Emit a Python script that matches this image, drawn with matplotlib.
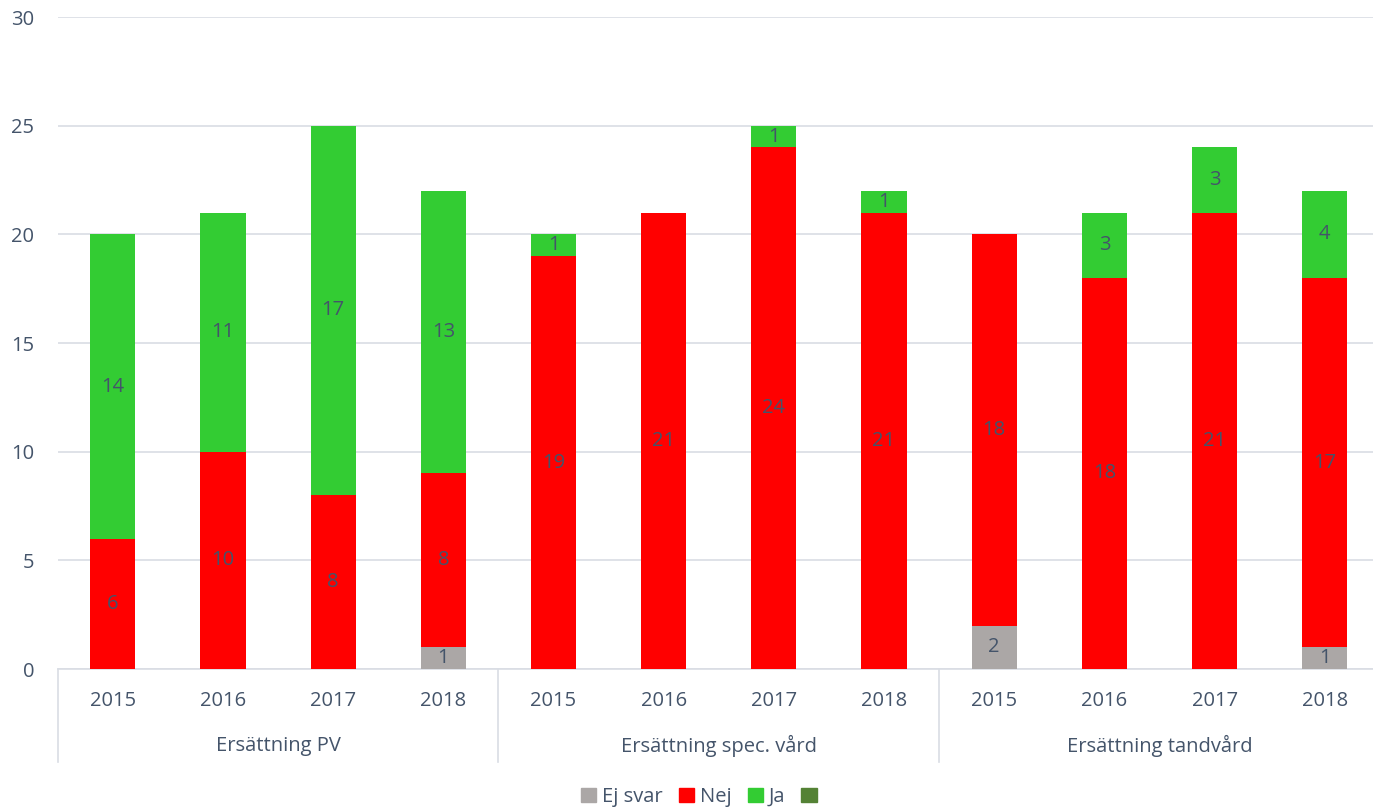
import numpy as np
import matplotlib.pyplot as plt
from matplotlib.patches import Patch
import matplotlib.transforms as mtransforms

plt.rcParams['font.family'] = ['Open Sans', 'DejaVu Sans']

# Datos
grupos = ['Ersättning PV', 'Ersättning spec. vård', 'Ersättning tandvård']
anios = ['2015', '2016', '2017', '2018']
ej_svar = [0, 0, 0, 1,   0, 0, 0, 0,   2, 0, 0, 1]
nej = [6, 10, 8, 8,   19, 21, 24, 21,   18, 18, 21, 17]
ja = [14, 11, 17, 13,   1, 0, 1, 1,   0, 3, 3, 4]
serie4 = [0] * 12

texto = '#44546a'
colores = ['#aba7a6', '#ff0000', '#33cc33', '#548235']
fs = 14.5

fig = plt.figure(figsize=(13.73, 8.1), dpi=100)
ax = fig.add_axes([0.042, 0.174, 0.963, 0.805])

x = np.arange(len(nej))
ancho = 0.41
abajo = np.zeros(len(nej))
for valores, color in zip([ej_svar, nej, ja, serie4], colores):
    valores = np.array(valores)
    ax.bar(x, valores, ancho, bottom=abajo, color=color, zorder=3)
    for xi, b, v in zip(x, abajo, valores):
        if v > 0:
            ax.text(xi, b + v / 2, str(v), ha='center', va='center',
                    fontsize=fs, color=texto, zorder=4)
    abajo = abajo + valores

ax.set_ylim(0, 30)
ax.set_xlim(-0.5, len(nej) - 0.5)
ax.set_yticks(range(0, 31, 5))
ax.yaxis.grid(True, color='#d9dde4', linewidth=1.2, zorder=0)
for s in ['top', 'right', 'left']:
    ax.spines[s].set_visible(False)
ax.spines['bottom'].set_color('#d9dde4')
ax.spines['bottom'].set_linewidth(1.2)
ax.tick_params(axis='y', length=0, labelsize=fs, labelcolor=texto, pad=17)
ax.tick_params(axis='x', length=0, labelsize=fs, labelcolor=texto, pad=16)
ax.set_xticks(x)
ax.set_xticklabels(anios * len(grupos))

# etiquetas de grupo y separadores
trans = mtransforms.blended_transform_factory(ax.transData, ax.transAxes)
for i, g in enumerate(grupos):
    ax.text(i * 4 + 1.5, -0.118, g, ha='center', va='center', fontsize=fs,
            color=texto, transform=trans)
for i in range(len(grupos) + 1):
    ax.plot([i * 4 - 0.5, i * 4 - 0.5], [0, -0.142], color='#d9dde4',
            linewidth=1.2, transform=trans, clip_on=False)

handles = [Patch(color=c) for c in colores]
fig.legend(handles, ['Ej svar', 'Nej', 'Ja', ' '], loc='center',
           bbox_to_anchor=(0.513, 0.016), ncol=4, frameon=False, fontsize=fs,
           labelcolor=texto, handlelength=0.75, handleheight=0.75,
           handletextpad=0.3, columnspacing=0.8)

fig.savefig('out.png')
